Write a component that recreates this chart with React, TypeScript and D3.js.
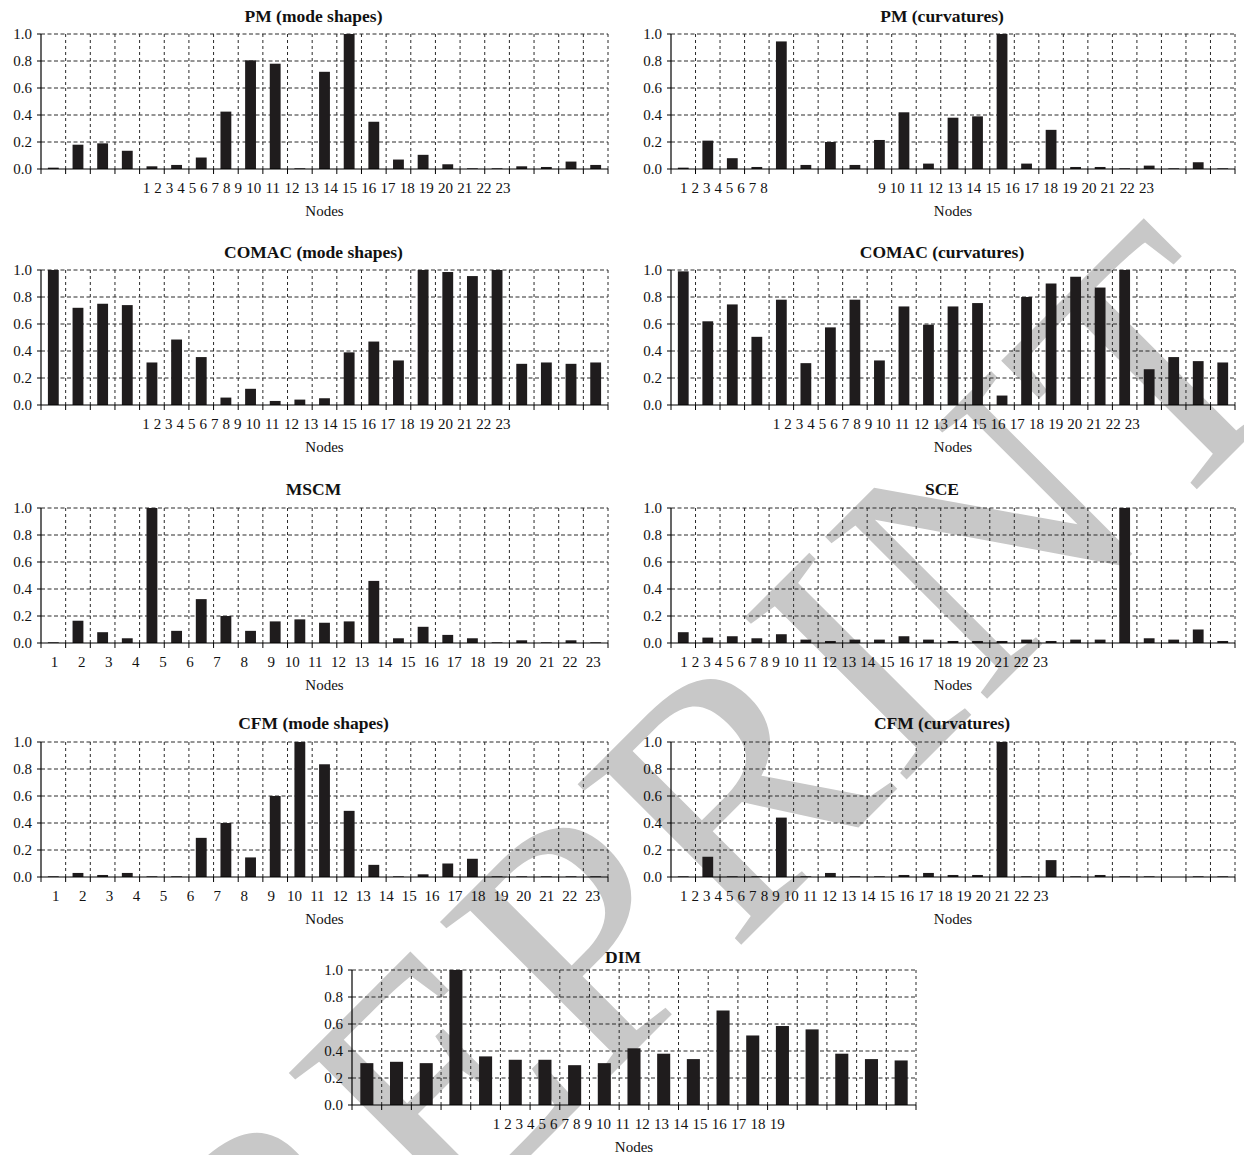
import React from "react";
import * as d3 from "d3";

// ---------- data ----------
const nodeLabels = ["1","2","3","4","5","6","7","8","9","10","11","12","13","14","15","16","17","18","19","20","21","22","23"];
const dimLabels = ["1","2","3","4","5","6","7","8","9","10","11","12","13","14","15","16","17","18","19"];
const yTickValues = [0, 0.2, 0.4, 0.6, 0.8, 1.0];

const pmModeShapes = [0.01, 0.18, 0.19, 0.135, 0.02, 0.03, 0.085, 0.425, 0.805, 0.78, 0.005, 0.72, 1.0, 0.35, 0.07, 0.105, 0.035, 0.005, 0.005, 0.02, 0.015, 0.055, 0.03];
const pmCurvatures = [0.01, 0.21, 0.08, 0.015, 0.945, 0.03, 0.2, 0.03, 0.215, 0.42, 0.04, 0.38, 0.39, 1.0, 0.04, 0.29, 0.015, 0.015, 0.005, 0.025, 0.005, 0.05, 0.005];
const comacModeShapes = [1.0, 0.72, 0.75, 0.74, 0.315, 0.485, 0.355, 0.055, 0.12, 0.03, 0.04, 0.05, 0.39, 0.47, 0.33, 1.0, 0.985, 0.955, 1.0, 0.305, 0.315, 0.305, 0.315];
const comacCurvatures = [0.99, 0.62, 0.745, 0.505, 0.78, 0.31, 0.575, 0.78, 0.33, 0.73, 0.595, 0.73, 0.755, 0.07, 0.8, 0.9, 0.95, 0.87, 1.0, 0.265, 0.355, 0.325, 0.315];
const mscm = [0.005, 0.165, 0.08, 0.035, 1.0, 0.09, 0.325, 0.2, 0.09, 0.16, 0.175, 0.15, 0.16, 0.46, 0.035, 0.12, 0.06, 0.035, 0.005, 0.02, 0.005, 0.02, 0.005];
const sce = [0.08, 0.04, 0.05, 0.035, 0.065, 0.025, 0.015, 0.025, 0.025, 0.05, 0.025, 0.015, 0.015, 0.015, 0.025, 0.015, 0.025, 0.025, 1.0, 0.035, 0.025, 0.1, 0.015];
const cfmModeShapes = [0.005, 0.03, 0.015, 0.03, 0.005, 0.005, 0.29, 0.4, 0.145, 0.6, 1.0, 0.835, 0.49, 0.09, 0.005, 0.02, 0.1, 0.135, 0.005, 0.005, 0.005, 0.005, 0.005];
const cfmCurvatures = [0.005, 0.15, 0.005, 0.005, 0.44, 0.005, 0.03, 0.005, 0.005, 0.015, 0.03, 0.015, 0.015, 1.0, 0.005, 0.125, 0.005, 0.015, 0.005, 0.005, 0.0, 0.005, 0.005];
const dim = [0.31, 0.32, 0.31, 1.0, 0.36, 0.335, 0.335, 0.295, 0.31, 0.42, 0.38, 0.34, 0.7, 0.515, 0.585, 0.56, 0.38, 0.34, 0.33];

const xTitle = "Nodes";
const watermark = "PREPRINT";

// ---------- layout ----------
const W = 1244;
const H = 1155;
const COLS: [number, number][] = [[41, 608], [671, 1235]];
const DIM_X: [number, number] = [352, 916];
const ROWS: [number, number][] = [[34, 169], [270, 405], [508, 643], [742, 877], [970, 1105]];
const SERIF = "'Liberation Serif', 'Times New Roman', Times, serif";

type Panel = {
  title: string;
  values: number[];
  labels: string[];
  xr: [number, number];
  yr: [number, number];
  titleDy: number;
  // tick-label anchors: [label number, fraction of plot width]
  anchors: [number, number][];
};

const panels: Panel[] = [
  { title: "PM (mode shapes)", values: pmModeShapes, labels: nodeLabels, xr: COLS[0], yr: ROWS[0], titleDy: -12,
    anchors: [[1, 0.186], [9, 0.348], [10, 0.375], [23, 0.815]] },
  { title: "PM (curvatures)", values: pmCurvatures, labels: nodeLabels, xr: COLS[1], yr: ROWS[0], titleDy: -12,
    anchors: [[1, 0.0225], [8, 0.165], [9, 0.374], [10, 0.401], [23, 0.843]] },
  { title: "COMAC (mode shapes)", values: comacModeShapes, labels: nodeLabels, xr: COLS[0], yr: ROWS[1], titleDy: -12,
    anchors: [[1, 0.185], [9, 0.347], [10, 0.374], [23, 0.815]] },
  { title: "COMAC (curvatures)", values: comacCurvatures, labels: nodeLabels, xr: COLS[1], yr: ROWS[1], titleDy: -12,
    anchors: [[1, 0.187], [9, 0.35], [10, 0.376], [23, 0.818]] },
  { title: "MSCM", values: mscm, labels: nodeLabels, xr: COLS[0], yr: ROWS[2], titleDy: -13,
    anchors: [[1, 0.024], [9, 0.406], [10, 0.443], [23, 0.974]] },
  { title: "SCE", values: sce, labels: nodeLabels, xr: COLS[1], yr: ROWS[2], titleDy: -13,
    anchors: [[1, 0.0232], [9, 0.186], [10, 0.213], [23, 0.655]] },
  { title: "CFM (mode shapes)", values: cfmModeShapes, labels: nodeLabels, xr: COLS[0], yr: ROWS[3], titleDy: -13,
    anchors: [[1, 0.026], [9, 0.406], [10, 0.447], [23, 0.973]] },
  { title: "CFM (curvatures)", values: cfmCurvatures, labels: nodeLabels, xr: COLS[1], yr: ROWS[3], titleDy: -13,
    anchors: [[1, 0.0225], [9, 0.186], [10, 0.213], [23, 0.656]] },
  { title: "DIM", values: dim, labels: dimLabels, xr: DIM_X, yr: ROWS[4], titleDy: -7,
    anchors: [[1, 0.256], [9, 0.419], [10, 0.446], [19, 0.754]] },
];

function ChartPanel({ p }: { p: Panel }) {
  const [x0, x1] = p.xr;
  const [y0, y1] = p.yr;
  const n = p.values.length;
  const x = d3.scaleBand<number>()
    .domain(d3.range(n))
    .range([x0, x1])
    .paddingInner(0.56)
    .paddingOuter(0.28);
  const step = x.step();
  const y = d3.scaleLinear().domain([0, 1]).range([y1, y0]);
  const fmt = d3.format(".1f");
  const boundaries = d3.range(n + 1).map((i) => x0 + i * step);
  const labelX = d3.scaleLinear()
    .domain(p.anchors.map((a) => a[0]))
    .range(p.anchors.map((a) => x0 + a[1] * (x1 - x0)));
  const cx = (x0 + x1) / 2;
  const gridColor = "#2a2a2a";

  return (
    <g>
      {yTickValues.filter((v) => v > 0).map((v) => (
        <line key={"h" + v} x1={x0} x2={x1} y1={y(v)} y2={y(v)}
          stroke={gridColor} strokeWidth={1} strokeDasharray="4,2.5" />
      ))}
      {boundaries.slice(1).map((bx, i) => (
        <line key={"v" + i} x1={bx} x2={bx} y1={y0} y2={y1}
          stroke={gridColor} strokeWidth={1} strokeDasharray="3,3" />
      ))}
      {p.values.map((v, i) => (
        <rect key={"b" + i} x={x(i)} width={x.bandwidth()} y={y(v)} height={Math.max(0, y(0) - y(v))}
          fill="#1f1c1d" />
      ))}
      <line x1={x0} x2={x0} y1={y0} y2={y1} stroke="#000" strokeWidth={1.2} />
      <line x1={x0} x2={x1} y1={y1} y2={y1} stroke="#000" strokeWidth={1.2} />
      {yTickValues.map((v) => (
        <g key={"yt" + v}>
          <line x1={x0 - 4} x2={x0} y1={y(v)} y2={y(v)} stroke="#000" strokeWidth={1} />
          <text x={x0 - 9} y={y(v) + 5} textAnchor="end" fontFamily={SERIF} fontSize={15} fill="#111">{fmt(v)}</text>
        </g>
      ))}
      {boundaries.map((bx, i) => (
        <line key={"xt" + i} x1={bx} x2={bx} y1={y1} y2={y1 + 5} stroke="#000" strokeWidth={1} />
      ))}
      {p.labels.map((l, i) => (
        <text key={"xl" + i} x={labelX(i + 1)} y={y1 + 24} textAnchor="middle" fontFamily={SERIF} fontSize={15} fill="#111">{l}</text>
      ))}
      <text x={cx} y={y1 + 47} textAnchor="middle" fontFamily={SERIF} fontSize={15} fill="#111">{xTitle}</text>
      <text x={cx - 11} y={y0 + p.titleDy} textAnchor="middle" fontFamily={SERIF} fontSize={17.5} fontWeight="bold" fill="#111">{p.title}</text>
    </g>
  );
}

export default function App() {
  return (
    <svg width={W} height={H} viewBox={`0 0 ${W} ${H}`}
      style={{ position: "absolute", left: 0, top: 0, display: "block", background: "#fff" }}>
      <rect x={0} y={0} width={W} height={H} fill="#fff" />
      <text transform="translate(141,1545) rotate(-45)" fontFamily={SERIF} fontSize={350} fill="#c8c8c8">{watermark}</text>
      {panels.map((p) => <ChartPanel key={p.title} p={p} />)}
    </svg>
  );
}
